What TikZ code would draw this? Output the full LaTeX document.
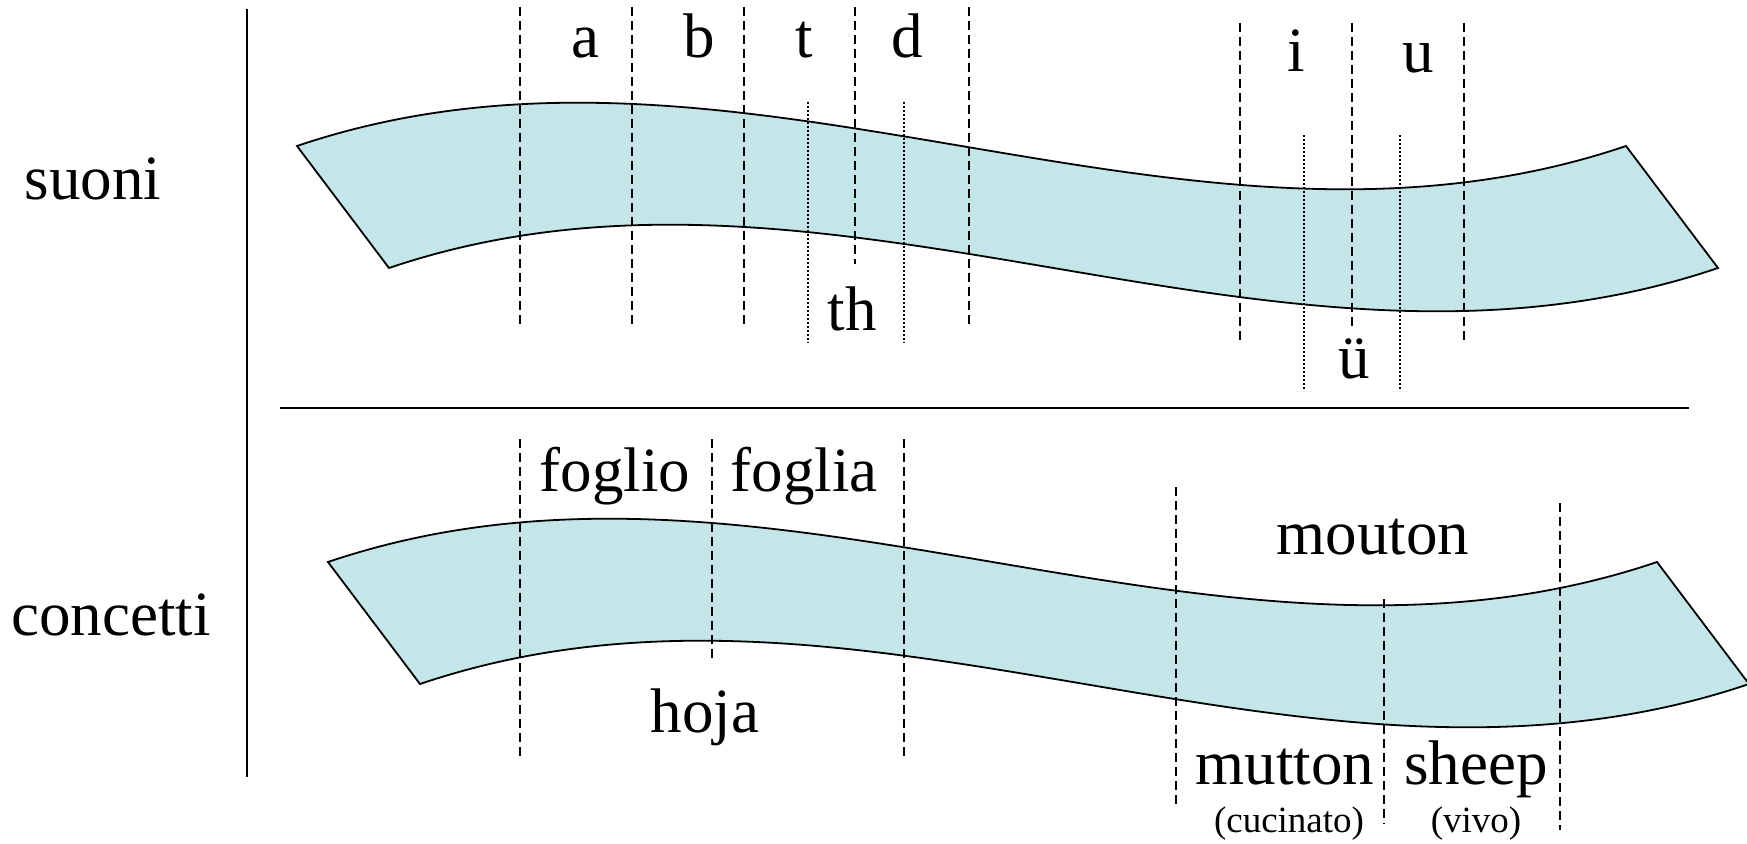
\documentclass[tikz,border=0pt]{standalone}
\usepackage{fontspec}
\setmainfont{Liberation Serif}
\definecolor{bandfill}{RGB}{196,230,233}
\tikzset{
  band/.style={draw=black, line width=1.8pt, fill=bandfill, line join=miter},
  axisline/.style={draw=black, line width=1.8pt},
  dashline/.style={draw=black, line width=1.7pt, dash pattern=on 9pt off 5pt},
  dotline/.style={draw=black, line width=1.2pt, dash pattern=on 1.5pt off 2.5pt},
  biglab/.style={inner sep=0pt, anchor=base, font=\fontsize{63}{70}\selectfont},
  smalllab/.style={inner sep=0pt, anchor=base, font=\fontsize{37}{42}\selectfont},
}
\begin{document}
\begin{tikzpicture}[x=1pt,y=-1pt]
\useasboundingbox (0,0) rectangle (1747,843);
% bands
\path[band] (297,146) .. controls (740,-4) and (1183,296) .. (1626,146)
  -- (1718,268) .. controls (1275,418) and (832,118) .. (389,268) -- cycle;
\path[band] (328,562) .. controls (771,412) and (1214,712) .. (1657,562)
  -- (1749,684) .. controls (1306,834) and (863,534) .. (420,684) -- cycle;
% axes
\coordinate (vtop) at (247,9);
\coordinate (vbot) at (247,777);
\coordinate (hl) at (280,408);
\coordinate (hr) at (1689,408);
\draw[axisline] (vtop) -- (vbot);
\draw[axisline] (hl) -- (hr);
% sounds: dashed separators
\foreach \x/\a/\b [count=\i] in {520/7/325, 632/7/325, 744/7/325, 855/7/264, 969/7/325, 1240/23/341, 1352/23/328, 1464/23/341}{
  \coordinate (sd\i t) at (\x,\a);
  \coordinate (sd\i b) at (\x,\b);
  \draw[dashline] (sd\i t) -- (sd\i b);
}
% sounds: dotted separators
\foreach \x/\a/\b [count=\i] in {808/102/343, 904/102/343, 1304/135/389, 1400/135/389}{
  \coordinate (so\i t) at (\x,\a);
  \coordinate (so\i b) at (\x,\b);
  \draw[dotline] (so\i t) -- (so\i b);
}
% concepts: dashed separators
\foreach \x/\a/\b [count=\i] in {520/439/757, 712/439/663, 904/439/757, 1176/487/805, 1384/599/824, 1560/503/830}{
  \coordinate (cd\i t) at (\x,\a);
  \coordinate (cd\i b) at (\x,\b);
  \draw[dashline] (cd\i t) -- (cd\i b);
}
% labels
\node[biglab] (suoni) at (93,199) {suoni};
\node[biglab] (concetti) at (111,635) {concetti};
\node[biglab] (la) at (585,58) {a};
\node[biglab] (lb) at (699,58) {b};
\node[biglab] (lt) at (804,58) {t};
\node[biglab] (ld) at (907,58) {d};
\node[biglab] (lth) at (852,330) {th};
\node[biglab] (li) at (1296,71) {i};
\node[biglab] (lu) at (1418,73) {u};
\node[biglab] (luu) at (1354,378) {ü};
\node[biglab] (foglio) at (615,491) {foglio};
\node[biglab] (foglia) at (804,491) {foglia};
\node[biglab] (hoja) at (705,732) {hoja};
\node[biglab] (mouton) at (1373,554) {mouton};
\node[biglab] (mutton) at (1285,784) {mutton};
\node[biglab] (sheep) at (1476,784) {sheep};
\node[smalllab] (cucinato) at (1289,832) {(cucinato)};
\node[smalllab] (vivo) at (1476,832) {(vivo)};
\end{tikzpicture}
\end{document}
